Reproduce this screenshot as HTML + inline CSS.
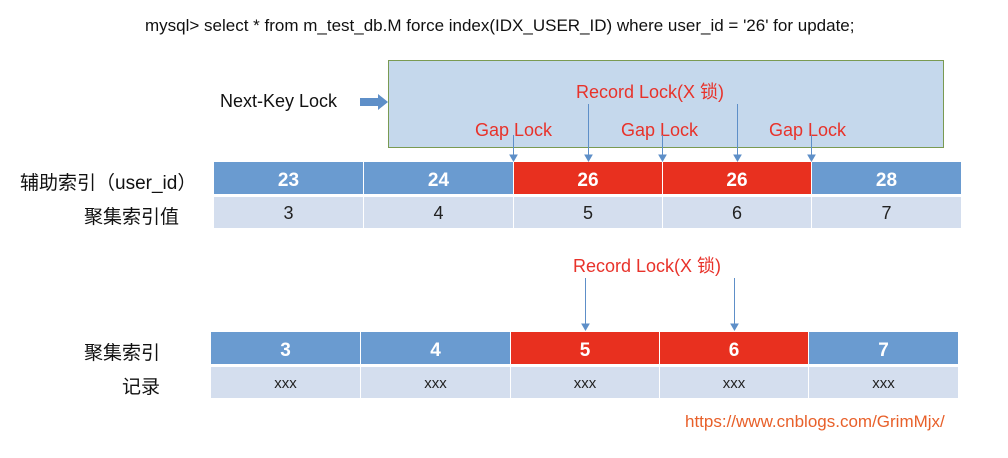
<!DOCTYPE html>
<html><head><meta charset="utf-8"><style>
body{margin:0;background:#fff;width:1008px;height:458px;position:relative;overflow:hidden;font-family:"Liberation Sans","Noto Sans CJK SC",sans-serif}
.a{position:absolute;white-space:nowrap}
.c{position:absolute;display:flex;align-items:center;justify-content:center;box-sizing:border-box}
.b{background:#6a9bd0;color:#fff;font-weight:bold;font-size:19px;padding-top:6px}
.r{background:#e8301f;color:#fff;font-weight:bold;font-size:19px;padding-top:6px}
.l{background:#d4deee;color:#222;font-size:18px;padding-top:2px}
.red{color:#e8322a;font-size:18px}
</style></head><body>
<div class="a" style="left:145px;top:16px;font-size:17px;color:#111">mysql&gt; select * from m_test_db.M force index(IDX_USER_ID) where user_id = '26' for update;</div>
<div class="a" style="left:388px;top:60px;width:556px;height:88px;background:#c5d8ec;border:1px solid #7a9a52;box-sizing:border-box"></div>
<div class="a" style="left:220px;top:91px;font-size:18px;color:#111">Next-Key Lock</div>
<svg class="a" style="left:358px;top:92px" width="32" height="20"><polygon points="2,6 20,6 20,2 30,10 20,18 20,14 2,14" fill="#5e8fc8"/></svg>
<div class="a red" style="left:576px;top:78px">Record Lock(X 锁)</div>
<div class="a red" style="left:475px;top:120px">Gap Lock</div>
<div class="a red" style="left:621px;top:120px">Gap Lock</div>
<div class="a red" style="left:769px;top:120px">Gap Lock</div>
<div class="a red" style="left:573px;top:252px">Record Lock(X 锁)</div>
<div class="a" style="left:685px;top:412px;font-size:17px;color:#e8602a">https://www.cnblogs.com/GrimMjx/</div>
<div class="a" style="left:20px;top:168px;font-size:19px;color:#111">辅助索引（user_id）</div>
<div class="a" style="left:84px;top:202px;font-size:19px;color:#111">聚集索引值</div>
<div class="a" style="left:84px;top:338px;font-size:19px;color:#111">聚集索引</div>
<div class="a" style="left:122px;top:372px;font-size:19px;color:#111">记录</div>
<svg class="a" style="left:0;top:0" width="1008" height="458">
<g stroke="#5e8fc8" stroke-width="1" fill="#5e8fc8">
<line x1="513.5" y1="135" x2="513.5" y2="157"/><polygon points="510,155 517,155 513.5,161"/>
<line x1="662.5" y1="135" x2="662.5" y2="157"/><polygon points="659,155 666,155 662.5,161"/>
<line x1="811.5" y1="135" x2="811.5" y2="157"/><polygon points="808,155 815,155 811.5,161"/>
<line x1="588.5" y1="104" x2="588.5" y2="157"/><polygon points="585,155 592,155 588.5,161"/>
<line x1="737.5" y1="104" x2="737.5" y2="157"/><polygon points="734,155 741,155 737.5,161"/>
<line x1="585.5" y1="278" x2="585.5" y2="326"/><polygon points="582,324 589,324 585.5,330"/>
<line x1="734.5" y1="278" x2="734.5" y2="326"/><polygon points="731,324 738,324 734.5,330"/>
</g></svg>
<div class="c b" style="left:214px;top:162px;width:149px;height:32px">23</div>
<div class="c b" style="left:364px;top:162px;width:149px;height:32px">24</div>
<div class="c r" style="left:514px;top:162px;width:148px;height:32px">26</div>
<div class="c r" style="left:663px;top:162px;width:148px;height:32px">26</div>
<div class="c b" style="left:812px;top:162px;width:149px;height:32px">28</div>
<div class="c l" style="left:214px;top:197px;width:149px;height:31px">3</div>
<div class="c l" style="left:364px;top:197px;width:149px;height:31px">4</div>
<div class="c l" style="left:514px;top:197px;width:148px;height:31px">5</div>
<div class="c l" style="left:663px;top:197px;width:148px;height:31px">6</div>
<div class="c l" style="left:812px;top:197px;width:149px;height:31px">7</div>
<div class="c b" style="left:211px;top:332px;width:149px;height:32px">3</div>
<div class="c b" style="left:361px;top:332px;width:149px;height:32px">4</div>
<div class="c r" style="left:511px;top:332px;width:148px;height:32px">5</div>
<div class="c r" style="left:660px;top:332px;width:148px;height:32px">6</div>
<div class="c b" style="left:809px;top:332px;width:149px;height:32px">7</div>
<div class="c l" style="left:211px;top:367px;width:149px;height:31px;font-size:15px">xxx</div>
<div class="c l" style="left:361px;top:367px;width:149px;height:31px;font-size:15px">xxx</div>
<div class="c l" style="left:511px;top:367px;width:148px;height:31px;font-size:15px">xxx</div>
<div class="c l" style="left:660px;top:367px;width:148px;height:31px;font-size:15px">xxx</div>
<div class="c l" style="left:809px;top:367px;width:149px;height:31px;font-size:15px">xxx</div>
</body></html>
